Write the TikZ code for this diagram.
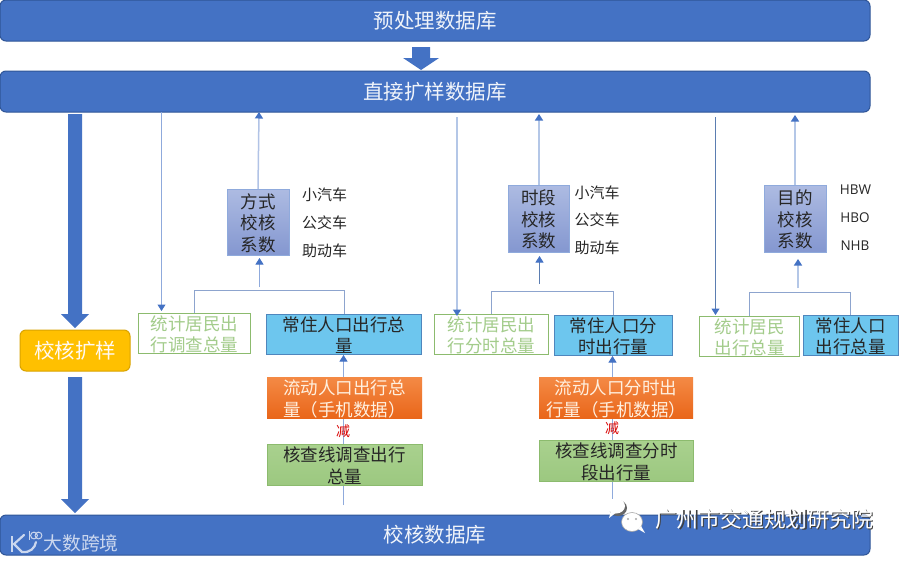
\documentclass[tikz,border=0pt]{standalone}
\usepackage{fontspec}
\setmainfont{Noto Sans CJK SC}
\newfontfamily\latinf{Open Sans}
\usetikzlibrary{arrows.meta,calc}
\definecolor{bannerblue}{HTML}{4472C4}
\definecolor{bannerline}{HTML}{2F5597}
\definecolor{thinline}{HTML}{8FAADC}
\definecolor{paleline}{HTML}{B4C7E7}
\definecolor{darkline}{HTML}{5B7DB1}
\definecolor{tipblue}{HTML}{4472C4}
\definecolor{greentext}{HTML}{A3CC8B}
\definecolor{greenline}{HTML}{8CBB6E}
\definecolor{skyfill}{HTML}{6DC6EE}
\definecolor{skyline}{HTML}{4F86BD}
\definecolor{orangetop}{HTML}{F48A45}
\definecolor{orangebot}{HTML}{E9661A}
\definecolor{greentop}{HTML}{A9D18E}
\definecolor{greenbot}{HTML}{9CC880}
\definecolor{coeftop}{HTML}{ADBBE2}
\definecolor{coefbot}{HTML}{8497D0}
\definecolor{goldfill}{HTML}{FFC000}
\definecolor{goldline}{HTML}{D9A300}
\tikzset{
  x=1pt,y=-1pt,
  anybox/.style={inner sep=0pt,outer sep=0pt,align=center,font=\fontsize{17.5}{21.5}\selectfont,text=black!85},
  banner/.style={anybox,fill=bannerblue,draw=bannerline,line width=1pt,rounded corners=6pt,text=white!92!bannerblue,font=\fontsize{20.5}{23}\selectfont},
  statbox/.style={anybox,fill=white,draw=greenline,line width=1pt,text=greentext},
  skybox/.style={anybox,fill=skyfill,draw=skyline,line width=.7pt},
  orangebox/.style={anybox,top color=orangetop,bottom color=orangebot,text=white!88!orange},
  greenbox/.style={anybox,top color=greentop,bottom color=greenbot,draw=greenline,line width=.6pt},
  coefbox/.style={anybox,top color=coeftop,bottom color=coefbot,draw=thinline,line width=.8pt},
  goldbox/.style={anybox,fill=goldfill,draw=goldline,line width=1pt,rounded corners=6pt,text=white!95!orange,font=\fontsize{20.5}{23}\selectfont},
  side/.style={inner sep=0pt,font=\fontsize{15}{17}\selectfont,text=black!85},
  sidelat/.style={inner sep=0pt,font=\latinf\fontsize{13.5}{16}\selectfont,text=black!85},
  minus/.style={inner sep=0pt,font=\fontsize{14}{16}\selectfont,text=red!85!black},
  tiny tip/.style={-{Triangle[width=8pt,length=6.5pt,fill=tipblue,color=tipblue]}},
  thin arrow/.style={draw=thinline,line width=1pt,tiny tip},
  pale arrow/.style={draw=paleline,line width=1.5pt,tiny tip},
  dark arrow/.style={draw=darkline,line width=1pt,tiny tip},
  bracket/.style={draw=thinline!85!gray,line width=1pt},
  block/.style={fill=bannerblue,draw=none},
}
% name, style, x1, y1, x2, y2, text
\newcommand{\bx}[7]{\node[#2,minimum width={(#5)-(#3)},minimum height={(#6)-(#4)}] (#1) at ({((#3)+(#5))/2},{((#4)+(#6))/2}) {\raisebox{-7.8pt}[0pt][0pt]{\begin{tabular}{@{}c@{}}#7\end{tabular}}};}
\begin{document}
\begin{tikzpicture}
\useasboundingbox (0,0) rectangle (904,560);
\fill[white] (0,0) rectangle (904,560);

% free ends of connectors
\coordinate (foot1) at (343.5,505);
\coordinate (foot2) at (612.5,503);
\coordinate (junc1) at (259.5,287);
\coordinate (junc2) at (539.5,284);
\coordinate (junc3) at (798,288);
\coordinate (drop1) at (161.5,112);
\coordinate (drop2) at (457,117);
\coordinate (drop3) at (715.5,117);
\coordinate (land1) at (161.5,311);
\coordinate (land2) at (457,316);
\coordinate (land3) at (715.5,315);
\coordinate (rise1) at (259,112);
\coordinate (rise2) at (539,114);
\coordinate (rise3) at (795,115);
\coordinate (tipa) at (259.5,258);
\coordinate (tipb) at (539.5,256);
\coordinate (tipc) at (798,259);
\coordinate (uptip1) at (343.5,355);
\coordinate (uptip2) at (612.5,356);

% lines that run behind the boxes
\draw[thin arrow] (foot1) -- (uptip1);
\draw[thin arrow] (foot2) -- (uptip2);

\bx{pre}{banner}{0}{0}{870}{41}{预处理数据库}
\bx{direct}{banner}{0}{71}{870}{112}{直接扩样数据库}
\bx{checked}{banner}{0}{515}{870}{555}{校核数据库}
\bx{gold}{goldbox}{20}{330}{130}{371}{校核扩样}

% block arrows
\fill[block] (412,47) -- (430,47) -- (430,58) -- (439,58) -- (421,70) -- (403,58) -- (412,58) -- cycle;
\fill[block] (68,114) -- (82,114) -- (82,314) -- (89,314) -- (75,328) -- (61,314) -- (68,314) -- cycle;
\fill[block] (68,377) -- (82,377) -- (82,499) -- (89,499) -- (75,513) -- (61,499) -- (68,499) -- cycle;

% coefficient boxes
\bx{fang}{coefbox}{227}{189}{289}{255}{方式\\校核\\系数}
\bx{shi}{coefbox}{508}{185}{569}{252}{时段\\校核\\系数}
\bx{mu}{coefbox}{764}{185}{826}{252}{目的\\校核\\系数}

% first column
\bx{stata}{statbox}{138.5}{313}{250}{353}{统计居民出\\行调查总量}
\bx{resa}{skybox}{266.5}{314}{421.5}{354}{常住人口出行总\\量}
\bx{flowa}{orangebox}{267}{377}{422}{418}{流动人口出行总\\量（手机数据）}
\bx{lina}{greenbox}{267}{444}{422}{485}{核查线调查出行\\总量}
\node[minus] (jiana) at (343,431) {减};

% second column
\bx{statb}{statbox}{434}{314}{548.5}{354}{统计居民出\\行分时总量}
\bx{resb}{skybox}{554}{315}{672.5}{355}{常住人口分\\时出行量}
\bx{flowb}{orangebox}{539}{377}{693}{418}{流动人口分时出\\行量（手机数据）}
\bx{linb}{greenbox}{539}{440}{693.5}{481}{核查线调查分时\\段出行量}
\node[minus] (jianb) at (612,428) {减};

% third column
\bx{statc}{statbox}{699.5}{316}{799.5}{356}{统计居民\\出行总量}
\bx{resc}{skybox}{803}{315}{898.5}{355}{常住人口\\出行总量}

% side labels
\node[side] (s1) at (324.5,195) {小汽车};
\node[side] (s2) at (324.5,223) {公交车};
\node[side] (s3) at (324.5,250.5) {助动车};
\node[side] (t1) at (597,193) {小汽车};
\node[side] (t2) at (597,220) {公交车};
\node[side] (t3) at (597,248) {助动车};
\node[sidelat] (u1) at (855.5,190) {HBW};
\node[sidelat] (u2) at (855,218) {HBO};
\node[sidelat] (u3) at (855,246) {NHB};

% connectors
\draw[thin arrow] (drop1) -- (land1);
\draw[pale arrow,draw=thinline!70] (fang.north) -- (rise1);
\draw[thin arrow] (junc1) -- (tipa);
\draw[bracket] (stata.north -| 194,0) -- ++(0,-23) coordinate (bra) -| (resa.north -| 344,0);

\draw[pale arrow] (drop2) -- (land2);
\draw[pale arrow] (shi.north -| rise2) -- (rise2);
\draw[dark arrow] (junc2) -- (tipb);
\draw[bracket] (statb.north -| 491,0) -- ++(0,-23) coordinate (brb) -| (resb.north -| 613.5,0);

\draw[dark arrow] (drop3) -- (land3);
\draw[pale arrow] (mu.north -| rise3) -- (rise3);
\draw[pale arrow] (junc3) -- (tipc);
\draw[bracket] (statc.north -| 749.5,0) -- ++(0,-24) coordinate (brc) -| (resc.north -| 850.5,0);

% watermarks
\node[inner sep=0pt,font=\fontsize{18.8}{20}\selectfont,text=white!72!bannerblue] (wm1) at (81,543) {大数跨境};
\draw[white!72!bannerblue,line width=2.2pt] (12,536) -- (12,552);
\draw[white!72!bannerblue,line width=2.2pt,line cap=round] (24,535) -- (14,544) -- (22,552) .. controls (30,553) and (35,548) .. (36,542);
\draw[white!72!bannerblue,line width=1pt] (29,531) -- (29,540);
\draw[white!72!bannerblue,line width=1pt] (34,535.5) circle (3.4) (38.5,535.5) circle (3.4);
\fill[gray!80!black] (618,508) ellipse (9 and 8);
\fill[white] (616,506) ellipse (9 and 7.5);
\fill[white] (611,511) -- (609,518) -- (617,512) -- cycle;
\draw[gray!70,fill=white,line width=.6pt] (632,522) ellipse (10.5 and 9.5);
\fill[white] (638,529) -- (645,533) -- (641,526) -- cycle;
\fill[gray!70] (628,519) circle (1.1) (636,519) circle (1.1);
\node[inner sep=0pt,font=\fontsize{21.8}{23}\selectfont,text=black!75] (wm2s) at (765.2,520.2) {广州市交通规划研究院};
\node[inner sep=0pt,font=\fontsize{21.8}{23}\selectfont,text=white] (wm2) at (764,519) {广州市交通规划研究院};
\end{tikzpicture}
\end{document}
